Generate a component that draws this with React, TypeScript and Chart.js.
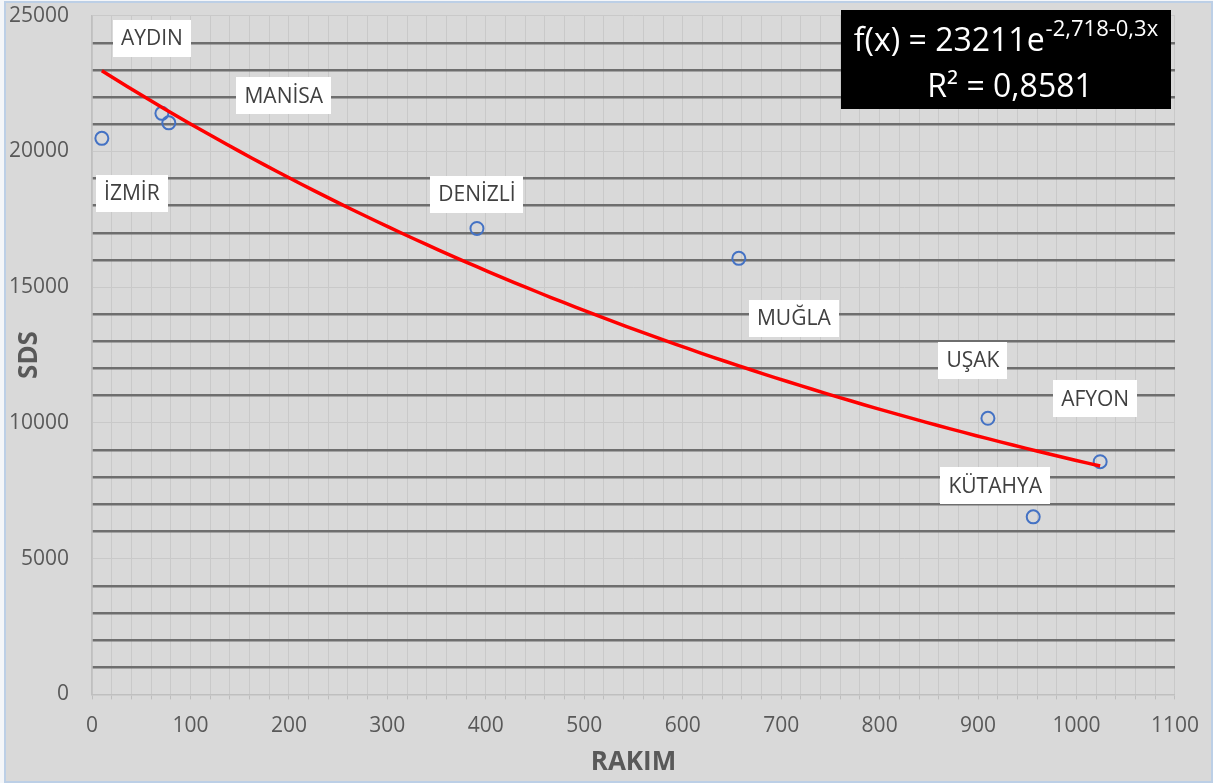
import { useEffect, useRef } from 'react';
import { Chart, registerables } from 'chart.js';

Chart.register(...registerables);

// ---- data ----
const cities = ['İZMİR', 'AYDIN', 'MANİSA', 'DENİZLİ', 'MUĞLA', 'UŞAK', 'AFYON', 'KÜTAHYA'];
const rakim = [10, 71, 78, 391, 657, 910, 1024, 956];
const sds = [20480, 21400, 21050, 17160, 16060, 10170, 8570, 6540];

const xTickLabels = [0, 100, 200, 300, 400, 500, 600, 700, 800, 900, 1000, 1100];
const yTickLabels = [0, 5000, 10000, 15000, 20000, 25000];

const eqMain = 'f(x) = 23211e';
const eqExp = '-2,718-0,3x';
const eqR2 = 'R² = 0,8581';

// label placement (pixel offsets from each point) - style only
const labelOffsets: [number, number][] = [
  [30, 55], [-10, -75], [115, -27], [0, -34], [55, 60], [-15, -58], [-5, -63], [-38, -31],
];

// exponential least-squares fit of the data (as a spreadsheet trendline)
function expFit(xs: number[], ys: number[]) {
  const n = xs.length;
  const ly = ys.map((v) => Math.log(v));
  const mx = xs.reduce((a, b) => a + b, 0) / n;
  const my = ly.reduce((a, b) => a + b, 0) / n;
  let sxy = 0, sxx = 0;
  for (let i = 0; i < n; i++) {
    sxy += (xs[i] - mx) * (ly[i] - my);
    sxx += (xs[i] - mx) ** 2;
  }
  const b = sxy / sxx;
  const a = Math.exp(my - b * mx);
  return { a, b };
}

const FONT = "'Open Sans', 'Noto Sans', sans-serif";

export default function App() {
  const ref = useRef<HTMLCanvasElement | null>(null);

  useEffect(() => {
    document.body.style.margin = '0';
    const canvas = ref.current;
    if (!canvas) return;

    const { a, b } = expFit(rakim, sds);
    const xmin = Math.min(...rakim);
    const xmax = Math.max(...rakim);
    const trend: { x: number; y: number }[] = [];
    const N = 80;
    for (let i = 0; i <= N; i++) {
      const x = xmin + ((xmax - xmin) * i) / N;
      trend.push({ x, y: a * Math.exp(b * x) });
    }

    const bgPlugin = {
      id: 'bg',
      beforeDraw(chart: any) {
        const c = chart.ctx;
        c.save();
        c.fillStyle = '#f4f6f9';
        c.fillRect(0, 0, chart.width, chart.height);
        c.fillStyle = '#d9d9d9';
        c.fillRect(5, 2, chart.width - 6, chart.height - 2);
        c.strokeStyle = '#bccfe6';
        c.lineWidth = 2;
        c.strokeRect(5, 2, chart.width - 6, chart.height - 3);
        c.restore();
      },
    };

    const labelPlugin = {
      id: 'labels',
      afterDatasetsDraw(chart: any) {
        const c = chart.ctx;
        const xs = chart.scales.x;
        const ys = chart.scales.y;
        c.save();
        c.font = `21px ${FONT}`;
        c.textAlign = 'center';
        c.textBaseline = 'middle';
        cities.forEach((name, i) => {
          const px = xs.getPixelForValue(rakim[i]) + labelOffsets[i][0];
          const py = ys.getPixelForValue(sds[i]) + labelOffsets[i][1];
          const w = c.measureText(name).width + 16;
          const h = 37;
          c.fillStyle = '#ffffff';
          c.fillRect(Math.round(px - w / 2), Math.round(py - h / 2), Math.round(w), h);
          c.fillStyle = '#404040';
          c.fillText(name, px, py + 1);
        });
        c.restore();
      },
      afterDraw(chart: any) {
        const c = chart.ctx;
        const bx = 841, by = 10, bw = 330, bh = 99;
        c.save();
        c.fillStyle = '#000000';
        c.fillRect(bx, by, bw, bh);
        c.fillStyle = '#ffffff';
        c.textBaseline = 'alphabetic';
        c.textAlign = 'left';
        c.font = `32px ${FONT}`;
        const wMain = c.measureText(eqMain).width;
        c.font = `22px ${FONT}`;
        const wExp = c.measureText(eqExp).width;
        const cx = bx + bw / 2;
        const sx = cx - (wMain + wExp + 1) / 2;
        c.font = `32px ${FONT}`;
        c.fillText(eqMain, sx, 51);
        c.font = `22px ${FONT}`;
        c.fillText(eqExp, sx + wMain + 1, 36);
        c.font = `32px ${FONT}`;
        c.textAlign = 'center';
        c.fillText(eqR2, cx + 4, 97);
        c.restore();
      },
    };

    const chart = new Chart(canvas, {
      type: 'scatter',
      data: {
        datasets: [
          {
            label: 'trend',
            data: trend,
            showLine: true,
            borderColor: '#ff0000',
            borderWidth: 3.5,
            pointRadius: 0,
            tension: 0,
          } as any,
          {
            label: 'SDS',
            data: rakim.map((x, i) => ({ x, y: sds[i] })),
            pointRadius: 6.5,
            pointBorderWidth: 2,
            pointBorderColor: '#4472c4',
            pointBackgroundColor: 'rgba(0,0,0,0)',
            showLine: false,
          } as any,
        ],
      },
      options: {
        animation: false,
        responsive: false,
        maintainAspectRatio: false,
        devicePixelRatio: 1,
        layout: { padding: { top: 0, right: 38, left: 0, bottom: 0 } },
        plugins: {
          legend: { display: false },
          tooltip: { enabled: false },
          title: { display: false },
        },
        scales: {
          x: {
            type: 'linear',
            min: 0,
            max: 1100,
            z: -1,
            afterFit: (s: any) => { s.height = 88.6; },
            ticks: {
              stepSize: 20,
              autoSkip: false,
              maxRotation: 0,
              padding: 14,
              color: '#595959',
              font: { family: FONT, size: 21 },
              callback: (v: any) => (xTickLabels.includes(Number(v)) ? String(v) : ''),
            },
            grid: {
              color: '#c9c9c9',
              lineWidth: 1,
              drawTicks: true,
              tickLength: 5,
              tickColor: '#bdbdbd',
            },
            border: { color: '#bfbfbf', width: 1.5 },
            title: {
              display: true,
              text: 'RAKIM',
              color: '#595959',
              font: { family: FONT, size: 26, weight: 'bold' },
              padding: { top: 0, bottom: 5 },
            },
          },
          y: {
            type: 'linear',
            min: 0,
            max: 25000,
            afterFit: (s: any) => { s.width = 92; },
            ticks: {
              stepSize: 1000,
              autoSkip: false,
              padding: 3,
              color: '#595959',
              font: { family: FONT, size: 21 },
              callback: (v: any) => (yTickLabels.includes(Number(v)) ? String(v) : ''),
            },
            grid: {
              drawTicks: true,
              tickLength: 20,
              tickColor: 'rgba(0,0,0,0)',
              color: (ctx: any) => (ctx.tick && ctx.tick.value % 5000 === 0 ? '#c9c9c9' : '#6e6e6e'),
              lineWidth: (ctx: any) => (ctx.tick && ctx.tick.value % 5000 === 0 ? 1 : 2.5),
            },
            border: { color: '#bfbfbf', width: 1.5 },
            title: {
              display: true,
              text: 'SDS',
              color: '#595959',
              font: { family: FONT, size: 26, weight: 'bold' },
              padding: { top: 14, bottom: 0 },
            },
          },
        },
      } as any,
      plugins: [bgPlugin, labelPlugin],
    });

    return () => chart.destroy();
  }, []);

  return <canvas ref={ref} width={1213} height={783} style={{ display: 'block', width: 1213, height: 783 }} />;
}
